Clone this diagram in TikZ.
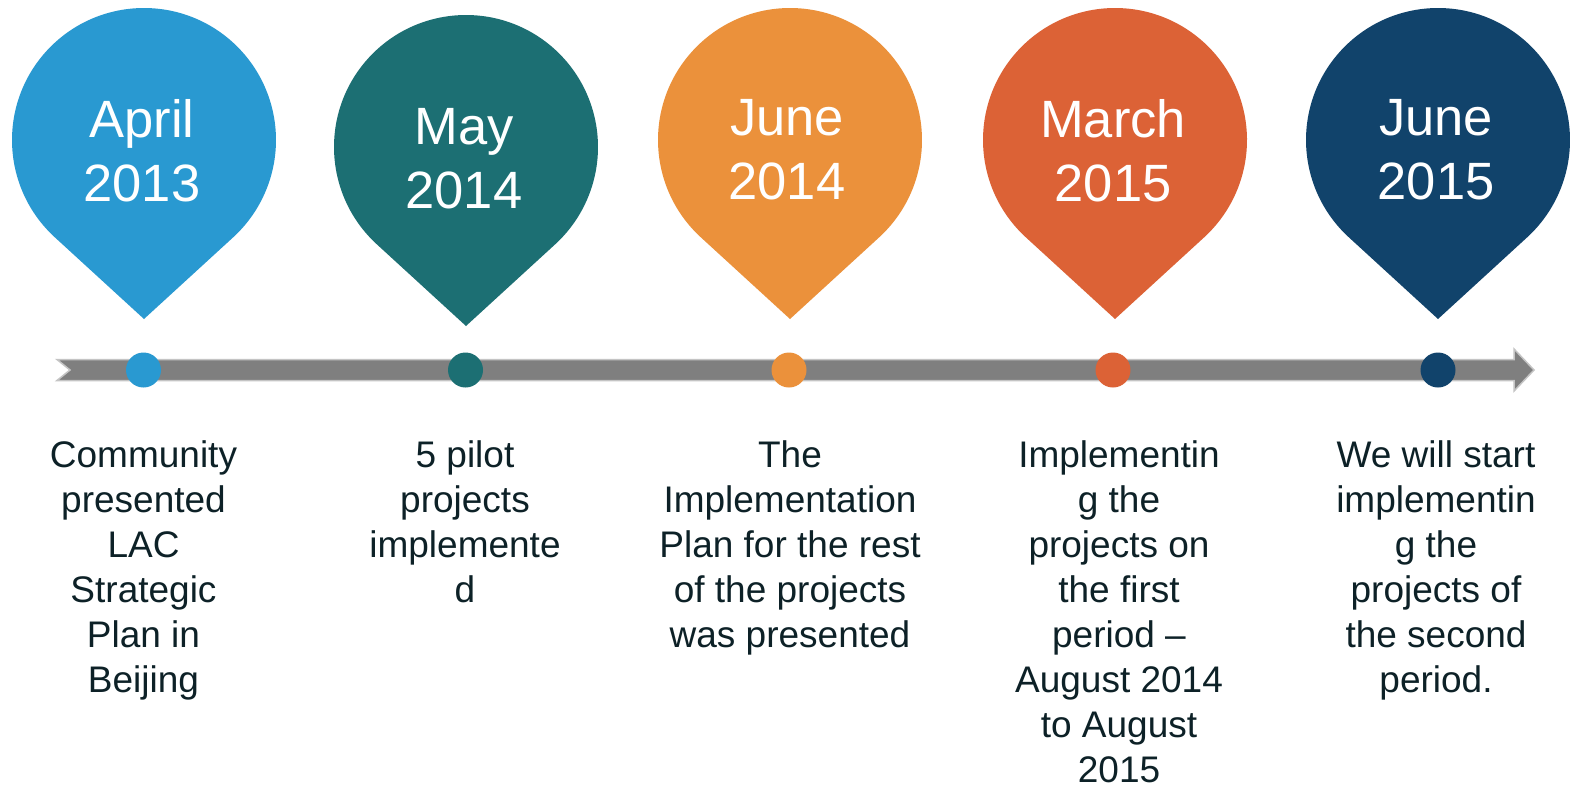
\documentclass[tikz,border=0pt]{standalone}
\usepackage{fontspec}
\setmainfont{Liberation Sans}
\usetikzlibrary{calc}
\definecolor{cA}{HTML}{2999D1}
\definecolor{cB}{HTML}{1C6F73}
\definecolor{cC}{HTML}{EB913B}
\definecolor{cD}{HTML}{DC6236}
\definecolor{cE}{HTML}{11436B}
\definecolor{txt}{HTML}{0D2127}
\definecolor{barfill}{HTML}{7F7F7F}
\definecolor{barline}{HTML}{C4C4C4}
\tikzset{
  pinlabel/.style={inner sep=0pt, anchor=north, align=center, text=white,
    font=\fontsize{52.5}{64}\selectfont},
  bodytext/.style={inner sep=0pt, anchor=north, align=center, text=txt,
    font=\fontsize{37}{45}\selectfont},
  dot/.style={circle, inner sep=0pt, minimum size=35pt, draw=none},
  bar/.style={fill=barfill, draw=barline, line width=1.5pt, line join=miter}
}
\newcommand{\mypin}[4]{% x, y center, colour, name
  \coordinate (#4c) at (#1,#2);
  \coordinate (#4tip) at (#1,#2+179);
  \fill[#3] (#4tip) -- ($(#4c)+(132.5:132)$) arc[start angle=132.5, end angle=407.5, radius=132] -- cycle;
}
\begin{document}
\begin{tikzpicture}[x=1pt,y=-1pt]
\useasboundingbox (0,0) rectangle (1570,785);
\fill[white] (0,0) rectangle (1570,785);
% pins
\mypin{144}{140}{cA}{pa}
\mypin{466}{147}{cB}{pb}
\mypin{790}{140}{cC}{pc}
\mypin{1115}{140}{cD}{pd}
\mypin{1438}{140}{cE}{pe}
\node[pinlabel] (la) at (142,99.4) {April\\2013};
\node[pinlabel] (lb) at (464,108.4) {May\\2014};
\node[pinlabel] (lc) at (787,99.4) {June\\2014};
\node[pinlabel] (ld) at (1113,99.4) {March\\2015};
\node[pinlabel] (le) at (1436,99.4) {June\\2015};
% timeline bar
\draw[bar] (57,359.5) -- (1514,359.5) -- (1514,349) -- (1534,370) -- (1514,391) -- (1514,380.5) -- (57,380.5) -- (70,370) -- cycle;
% dots
\node[dot, fill=cA] (da) at (143.5,370) {};
\node[dot, fill=cB] (db) at (465.5,370) {};
\node[dot, fill=cC] (dc) at (789,370) {};
\node[dot, fill=cD] (dd) at (1113,370) {};
\node[dot, fill=cE] (de) at (1438,370) {};
% texts
\node[bodytext] (ta) at (143.5,440.5) {Community\\presented\\LAC\\Strategic\\Plan in\\Beijing};
\node[bodytext] (tb) at (465,440.5) {5 pilot\\projects\\implemente\\d};
\node[bodytext] (tc) at (790,440.5) {The\\Implementation\\Plan for the rest\\of the projects\\was presented};
\node[bodytext] (td) at (1119,440.5) {Implementin\\g the\\projects on\\the first\\period –\\August 2014\\to August\\2015};
\node[bodytext] (te) at (1436,440.5) {We will start\\implementin\\g the\\projects of\\the second\\period.};
\end{tikzpicture}
\end{document}
